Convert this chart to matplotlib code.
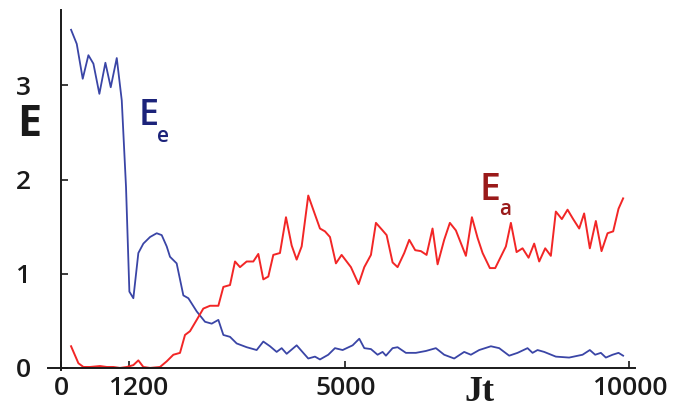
import matplotlib
matplotlib.use("Agg")
import matplotlib.pyplot as plt
from matplotlib.transforms import ScaledTranslation

# Electronic energy E_e versus time Jt
t_e = [176, 276, 381, 481, 569, 674, 780, 874, 980, 1068, 1143, 1202, 1272, 1360,
       1448, 1566, 1683, 1771, 1859, 1917, 2034, 2152, 2240, 2387, 2533, 2651,
       2768, 2856, 2973, 3090, 3266, 3442, 3559, 3677, 3794, 3882, 3970, 4146,
       4262, 4350, 4468, 4556, 4702, 4820, 4955, 5131, 5248, 5336, 5453, 5570,
       5658, 5717, 5834, 5922, 6068, 6244, 6420, 6596, 6742, 6918, 7094, 7212,
       7358, 7564, 7710, 7886, 8033, 8209, 8297, 8385, 8502, 8707, 8941, 9177,
       9305, 9399, 9499, 9587, 9705, 9810, 9891]
E_e = [3.59, 3.44, 3.07, 3.32, 3.23, 2.91, 3.24, 2.98, 3.29, 2.84, 1.92, 0.81,
       0.74, 1.22, 1.32, 1.39, 1.43, 1.41, 1.29, 1.18, 1.11, 0.77, 0.74, 0.60,
       0.49, 0.47, 0.51, 0.35, 0.33, 0.26, 0.22, 0.19, 0.28, 0.23, 0.17, 0.21,
       0.15, 0.24, 0.16, 0.10, 0.12, 0.09, 0.14, 0.21, 0.19, 0.24, 0.31, 0.21,
       0.20, 0.14, 0.17, 0.13, 0.21, 0.22, 0.16, 0.16, 0.18, 0.21, 0.14, 0.10,
       0.17, 0.14, 0.19, 0.23, 0.21, 0.13, 0.16, 0.21, 0.16, 0.19, 0.17, 0.12,
       0.11, 0.14, 0.19, 0.14, 0.16, 0.11, 0.14, 0.16, 0.13]

# Atomic energy E_a versus time Jt
t_a = [176, 305, 393, 510, 686, 804, 920, 1038, 1155, 1272, 1360, 1448, 1566,
       1741, 1859, 1976, 2093, 2181, 2269, 2387, 2503, 2621, 2768, 2856, 2973,
       3061, 3149, 3266, 3383, 3471, 3559, 3647, 3735, 3852, 3958, 4058, 4146,
       4234, 4350, 4438, 4556, 4644, 4732, 4837, 4937, 5101, 5236, 5336, 5453,
       5541, 5658, 5729, 5834, 5922, 6039, 6127, 6232, 6332, 6432, 6537, 6626,
       6742, 6842, 6948, 7124, 7230, 7330, 7418, 7546, 7640, 7828, 7916, 8016,
       8121, 8227, 8326, 8414, 8520, 8619, 8707, 8813, 8913, 9012, 9118, 9205,
       9305, 9411, 9511, 9617, 9716, 9810, 9891]
E_a = [0.23, 0.05, 0.01, 0.01, 0.02, 0.01, 0.01, 0.00, 0.01, 0.03, 0.08, 0.01,
       0.00, 0.01, 0.07, 0.14, 0.16, 0.35, 0.39, 0.51, 0.63, 0.66, 0.66, 0.86,
       0.88, 1.13, 1.07, 1.13, 1.13, 1.21, 0.94, 0.97, 1.20, 1.22, 1.60, 1.30,
       1.15, 1.29, 1.83, 1.68, 1.48, 1.45, 1.39, 1.11, 1.20, 1.07, 0.89, 1.07,
       1.20, 1.54, 1.46, 1.41, 1.12, 1.07, 1.22, 1.36, 1.25, 1.24, 1.20, 1.48,
       1.10, 1.36, 1.54, 1.46, 1.19, 1.60, 1.38, 1.22, 1.06, 1.06, 1.29, 1.54,
       1.23, 1.27, 1.17, 1.32, 1.13, 1.27, 1.19, 1.66, 1.58, 1.68, 1.58, 1.48,
       1.64, 1.27, 1.56, 1.24, 1.43, 1.45, 1.69, 1.80]

x_ticks = [0, 1200, 5000, 10000]
x_tick_labels = ["0", "1200", "5000", "10000"]
y_ticks = [0, 1, 2, 3]
y_tick_labels = ["0", "1", "2", "3"]

BLUE = "#3a45a6"
RED = "#f22626"
NAVY = "#1c237a"
DARKRED = "#9a1a1a"
INK = "#1a1a1a"
SANS = "Open Sans"

fig = plt.figure(figsize=(6.86, 4.11), dpi=100)
ax = fig.add_axes([48 / 686, 41 / 411, 587 / 686, 360 / 411])

ax.plot(t_e, E_e, color=BLUE, lw=1.3, solid_joinstyle="round")
ax.plot(t_a, E_a, color=RED, lw=1.4, solid_joinstyle="round")

ax.set_xlim(-230, 10100)
ax.set_ylim(-0.022, 3.80)

for side in ("top", "right"):
    ax.spines[side].set_visible(False)
ax.spines["left"].set_position(("data", 0))
ax.spines["bottom"].set_position(("data", 0))
for side in ("left", "bottom"):
    ax.spines[side].set_color(INK)
    ax.spines[side].set_linewidth(1.4)

ax.set_xticks(x_ticks)
ax.set_xticklabels(x_tick_labels)
ax.set_yticks(y_ticks)
ax.set_yticklabels(y_tick_labels)
ax.tick_params(axis="both", direction="in", length=5, width=1.2, color=INK,
               labelsize=19, labelcolor=INK)
ax.tick_params(axis="x", pad=6)
ax.tick_params(axis="y", pad=22)
for lab in ax.get_xticklabels() + ax.get_yticklabels():
    lab.set_family(SANS)
    lab.set_fontweight("semibold")

# the "1200" label sits a little to the right of its tick
lab1200 = ax.get_xticklabels()[1]
lab1200.set_transform(lab1200.get_transform()
                      + ScaledTranslation(9 / 100, 0, fig.dpi_scale_trans))

# axis titles
fig.text(29 / 686, 1 - 124 / 411, "E", fontsize=31, family=SANS,
         fontweight="bold", color=INK, ha="center", va="center")
fig.text(480 / 686, 1 - 392 / 411, "Jt", fontsize=26, family="Liberation Serif",
         fontweight="bold", color=INK, ha="center", va="center")

# curve labels
ax.text(1535, 2.58, "E", fontsize=26, family=SANS, fontweight="semibold",
        color=NAVY, ha="center", va="baseline")
ax.text(1800, 2.40, "e", fontsize=15, family=SANS, fontweight="semibold",
        color=NAVY, ha="center", va="baseline")
ax.text(7545, 1.78, "E", fontsize=27, family=SANS, fontweight="semibold",
        color=DARKRED, ha="center", va="baseline")
ax.text(7820, 1.62, "a", fontsize=15, family=SANS, fontweight="semibold",
        color=DARKRED, ha="center", va="baseline")

fig.savefig("out.png", dpi=100)
